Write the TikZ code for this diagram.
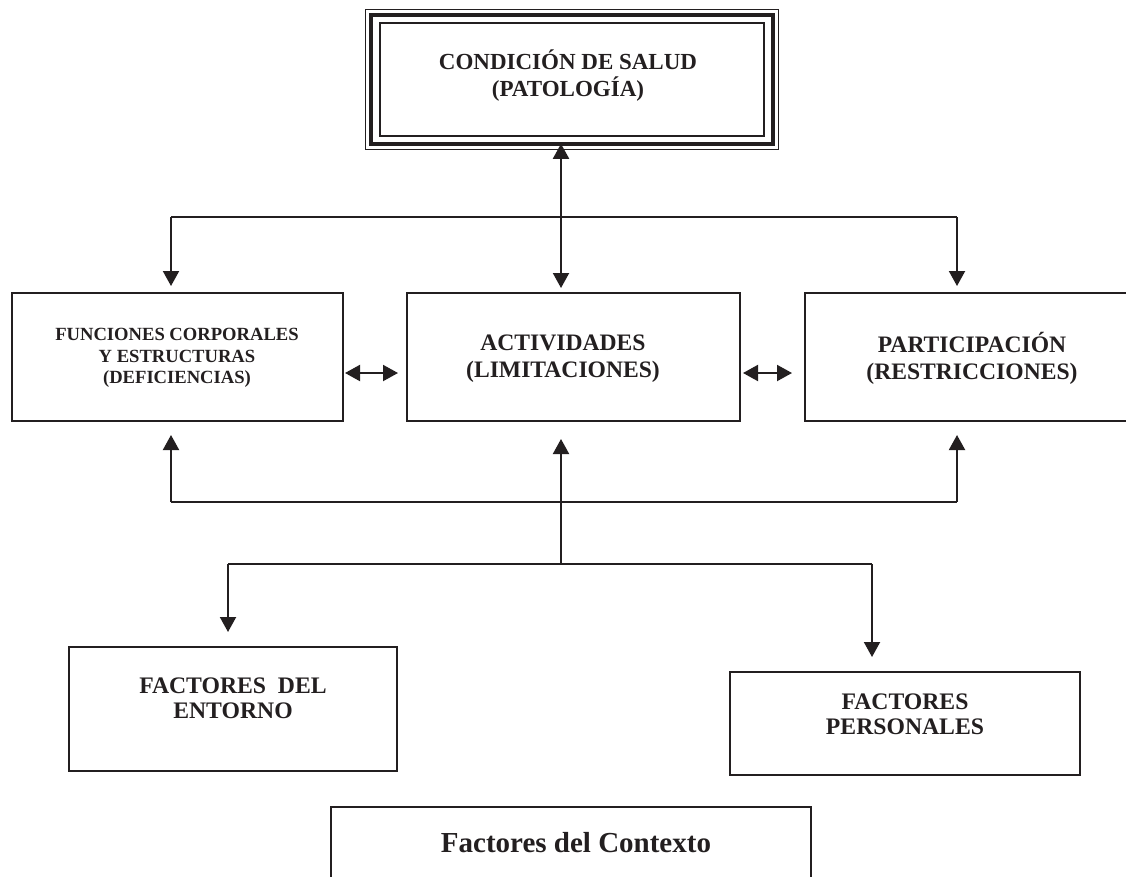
\documentclass[tikz,border=0pt]{standalone}
\usepackage{fontspec}
\setmainfont{Liberation Serif}
\usetikzlibrary{arrows.meta,calc}
\definecolor{ink}{HTML}{231F20}
\begin{document}
\begin{tikzpicture}[x=1pt,y=-1pt,
  box/.style={draw=ink, line width=2pt, rectangle, inner sep=0pt},
  lbl/.style={text=ink, font=\bfseries\fontsize{23}{27}\selectfont, align=center, inner sep=0pt},
  arr/.style={-{Triangle[width=16pt,length=15pt]}, draw=ink, line width=2pt},
  darr/.style={{Triangle[width=16pt,length=15pt]}-{Triangle[width=16pt,length=15pt]}, draw=ink, line width=2pt},
  ln/.style={draw=ink, line width=2pt}]
\useasboundingbox (0,0) rectangle (1126,876);
% top box with triple frame
\node[box, line width=1.6pt, minimum width=384pt, minimum height=113pt] (salud) at (572,79.5) {};
\draw[ink, line width=4.5pt] ($(salud.north west)+(-8,-7)$) rectangle ($(salud.south east)+(8,7)$);
\draw[ink, line width=1.3pt] ($(salud.north west)+(-14,-13)$) rectangle ($(salud.south east)+(14,13)$);
\node[lbl] (saludtxt) at (568,75.5) {CONDICIÓN DE SALUD\\(PATOLOGÍA)};
% middle row
\node[box, minimum width=331pt, minimum height=128pt] (func) at (177.5,357) {};
\node[lbl, font=\bfseries\fontsize{18.6}{21.5}\selectfont] (functxt) at (177,358) {FUNCIONES CORPORALES\\Y ESTRUCTURAS\\(DEFICIENCIAS)};
\node[box, minimum width=333pt, minimum height=128pt] (act) at (573.5,357) {};
\node[lbl, font=\bfseries\fontsize{23.6}{27}\selectfont] (acttxt) at (563,358.5) {ACTIVIDADES\\(LIMITACIONES)};
\node[box, minimum width=334pt, minimum height=128pt] (part) at (972,357) {};
\node[lbl, font=\bfseries\fontsize{23.6}{27}\selectfont] (parttxt) at (972,358.5) {PARTICIPACIÓN\\(RESTRICCIONES)};
% lower row
\node[box, minimum width=328pt, minimum height=124pt] (ent) at (233,709) {};
\node[lbl, font=\bfseries\fontsize{23.7}{25}\selectfont] (enttxt) at (233,698.5) {FACTORES~ DEL\\ENTORNO};
\node[box, minimum width=350pt, minimum height=103pt] (pers) at (905,723.5) {};
\node[lbl, font=\bfseries\fontsize{23.7}{25}\selectfont] (perstxt) at (905,714) {FACTORES\\PERSONALES};
% context box (open at bottom)
\coordinate (ctl) at (331,807);
\coordinate (ctr) at (811,807);
\coordinate (cbl) at (331,880);
\coordinate (cbr) at (811,880);
\draw[ln] (cbl) -- (ctl) -- (ctr) -- (cbr);
\node[lbl, font=\bfseries\fontsize{29}{32}\selectfont] (ctx) at (576,843) {Factores del Contexto};
% connectors
\draw[darr, shorten <=7pt, shorten >=4pt] (salud.south -| 561,0) -- (act.north -| 561,0);
\coordinate (tl) at (171,217);
\coordinate (tr) at (957,217);
\draw[ln] (tl) -- (tr);
\draw[arr, shorten >=6pt] (tl) -- (tl |- func.north);
\draw[arr, shorten >=6pt] (tr) -- (tr |- part.north);
\draw[darr, shorten <=1pt, shorten >=8pt] (func.east |- 0,373) -- (act.west |- 0,373);
\draw[darr, shorten <=2pt, shorten >=12pt] (act.east |- 0,373) -- (part.west |- 0,373);
\coordinate (bl) at (171,502);
\coordinate (br) at (957,502);
\draw[arr, shorten >=13pt] (bl) -- (bl |- func.south);
\draw[ln] (bl) -- (br);
\draw[arr, shorten >=13pt] (br) -- (br |- part.south);
\coordinate (lm) at (561,564);
\draw[arr, shorten >=17pt] (lm) -- (lm |- act.south);
\coordinate (ll) at (228,564);
\coordinate (lr) at (872,564);
\draw[ln] (ll) -- (lr);
\draw[arr, shorten >=14pt] (ll) -- (ll |- ent.north);
\draw[arr, shorten >=14pt] (lr) -- (lr |- pers.north);
\end{tikzpicture}
\end{document}
